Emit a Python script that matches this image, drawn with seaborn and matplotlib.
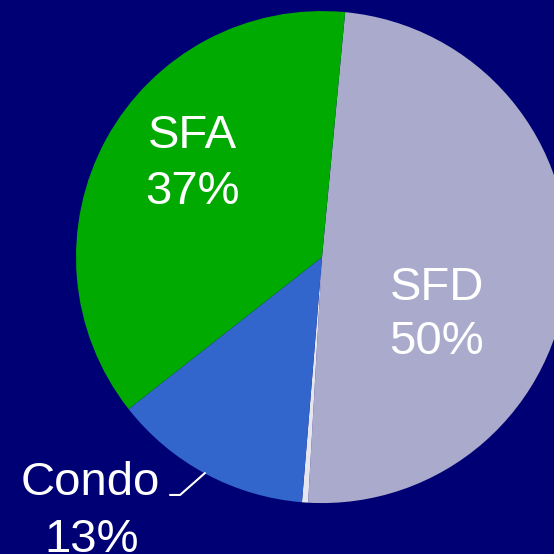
import matplotlib
matplotlib.use('Agg')
import matplotlib.pyplot as plt
import seaborn as sns

sns.set_theme(style='white')
plt.rcParams['font.family'] = ['Liberation Sans', 'DejaVu Sans']

# slices in clockwise order starting near the top
categories = ['SFD', 'Other', 'Condo', 'SFA']
shares = [49.4, 0.4, 13.1, 37.1]
pct_labels = ['50%', '', '13%', '37%']
colors = ['#AAAACC', '#E6E6EE', '#3366CC', '#00AA00']
bg = '#000075'

fig = plt.figure(figsize=(5.54, 5.54), dpi=100, facecolor=bg)
ax = fig.add_axes([0, 0, 1, 1])
ax.set_facecolor(bg)

ax.pie(shares, colors=colors, startangle=84.6, counterclock=False,
       radius=1.0, center=(0, 0), wedgeprops=dict(linewidth=0))

ax.set_aspect('equal')
ax.set_xlim(-1.309, 0.943)
ax.set_ylim(-1.207, 1.045)
ax.axis('off')

fs = 34
# SFA label
ax.text(-0.528, 0.443, categories[3], color='white', fontsize=fs, ha='center', va='baseline')
ax.text(-0.528, 0.215, pct_labels[3], color='white', fontsize=fs, ha='center', va='baseline')
# SFD label
ax.text(0.467, -0.175, categories[0], color='white', fontsize=fs, ha='center', va='baseline')
ax.text(0.467, -0.394, pct_labels[0], color='white', fontsize=fs, ha='center', va='baseline')
# Condo label outside with leader line
ax.text(-0.943, -0.967, categories[2], color='white', fontsize=fs, ha='center', va='baseline')
ax.text(-0.935, -1.199, pct_labels[2], color='white', fontsize=fs, ha='center', va='baseline')
ax.plot([-0.618, -0.577, -0.476], [-0.967, -0.967, -0.878], color='white', lw=1.5)

fig.savefig('out.png', dpi=100, facecolor=bg)
